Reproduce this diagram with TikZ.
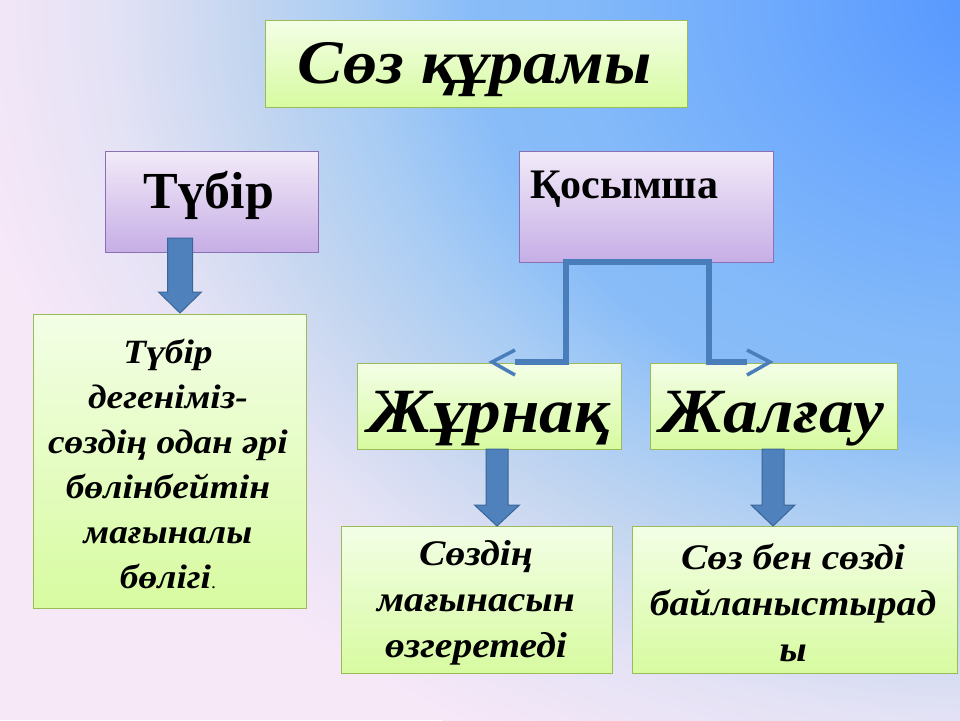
\documentclass[tikz,border=0pt]{standalone}
\usepackage{fontspec}
\setmainfont{Liberation Serif}
\newfontfamily\widefont[FakeStretch=1.1]{Liberation Serif}
\definecolor{bgA}{HTML}{5496FF}
\definecolor{bgB}{HTML}{6CA8FD}
\definecolor{bgC}{HTML}{84BAF9}
\definecolor{bgD}{HTML}{88BCF8}
\definecolor{bgE}{HTML}{A8CCF4}
\definecolor{bgF}{HTML}{C4D6F0}
\definecolor{bgG}{HTML}{E4E2F5}
\definecolor{bgH}{HTML}{F7E8F8}
\definecolor{gTop}{HTML}{F3FEE6}
\definecolor{gBot}{HTML}{D7FBA0}
\definecolor{gLine}{HTML}{9BBB59}
\definecolor{pTop}{HTML}{F2EAF8}
\definecolor{pBot}{HTML}{C6AEE6}
\definecolor{pLine}{HTML}{8C70B4}
\definecolor{aFill}{HTML}{4F81BD}
\definecolor{aLine}{HTML}{3A6697}
\definecolor{cBlue}{HTML}{4A7EBB}
\pgfdeclareradialshading{bgshade}{\pgfpoint{0bp}{0bp}}{color(0bp)=(bgA); color(5bp)=(bgB); color(10.25bp)=(bgC); color(12.5bp)=(bgD); color(15.25bp)=(bgE); color(18bp)=(bgF); color(21.25bp)=(bgG); color(25bp)=(bgH); color(50bp)=(bgH)}
\newcommand\blockdown[6]{%
  \filldraw[blk] (#1-#5,#2) -- (#1+#5,#2) -- (#1+#5,#3) -- (#1+#6,#3) -- (#1,#4) -- (#1-#6,#3) -- (#1-#5,#3) -- cycle;}
\tikzset{
  gbox/.style={draw=gLine, line width=1.2pt, top color=gTop, bottom color=gBot, anchor=north west, inner sep=0pt},
  pbox/.style={draw=pLine, line width=1.2pt, top color=pTop, bottom color=pBot, anchor=north west, inner sep=0pt},
  blk/.style={fill=aFill, draw=aLine, line width=1pt, line join=miter},
  conn/.style={draw=cBlue, line width=6pt, line join=miter},
  barb/.style={draw=cBlue, line width=3.5pt, line join=miter},
  bi/.style={font=\widefont\fontsize{#1}{#1}\selectfont\bfseries\itshape},
  txt/.style={align=center, inner sep=0pt, text=black}
}
\begin{document}
\begin{tikzpicture}[x=1pt,y=-1pt]
\useasboundingbox (0,0) rectangle (960,720);
\begin{scope}
  \clip (0,0) rectangle (960,720);
  \fill[bgH] (0,0) rectangle (960,720);
  \shade[shading=bgshade] (1000,0) ellipse [x radius=1050, y radius=850];
\end{scope}

% boxes
\node[gbox, minimum width=422pt, minimum height=87pt] (title) at (265,20) {};
\node[pbox, minimum width=213pt, minimum height=101pt] (tubir) at (105,151) {};
\node[pbox, minimum width=254pt, minimum height=111pt] (kos) at (519,151) {};
\node[gbox, minimum width=273pt, minimum height=294pt] (lbox) at (33,314) {};
\node[gbox, minimum width=264pt, minimum height=86pt] (zhur) at (357,363) {};
\node[gbox, minimum width=247pt, minimum height=86pt] (zhal) at (650,363) {};
\node[gbox, minimum width=271pt, minimum height=147pt] (b1) at (341,526) {};
\node[gbox, minimum width=325pt, minimum height=147pt] (b2) at (632,526) {};

% texts
\node[txt, bi=62, anchor=base] (titleT) at (475,83) {Сөз құрамы};
\node[txt, font=\fontsize{52}{52}\selectfont\bfseries, anchor=base] (tubirT) at (209,208) {Түбір};
\node[txt, font=\fontsize{42}{42}\selectfont\bfseries, anchor=base west] (kosT) at (530,198) {Қосымша};
\node[txt, bi=63, anchor=base] (zhurT) at (489,432) {Жұрнақ};
\node[txt, bi=63, anchor=base] (zhalT) at (772,432) {Жалғау};
\node[txt, font=\widefont\fontsize{34}{45}\selectfont\bfseries\itshape] (lT) at (168,464)
  {Түбір\\дегеніміз-\\сөздің одан әрі\\бөлінбейтін\\мағыналы\\бөлігі{\fontsize{18}{18}\selectfont\mdseries\upshape .}};
\node[txt, font=\widefont\fontsize{36}{46}\selectfont\bfseries\itshape] (b1T) at (476,603)
  {Сөздің\\мағынасын\\өзгеретеді};
\node[txt, font=\widefont\fontsize{36}{46}\selectfont\bfseries\itshape] (b2T) at (793,603)
  {Сөз бен сөзді\\байланыстырад\\ы};

% block arrows
\blockdown{180}{238}{292}{313}{12.5}{21.5}
\blockdown{497}{449}{505}{526}{11}{22.5}
\blockdown{773}{449}{505}{526}{11}{22}

% connector from Қосымша
\coordinate (kl) at (566,262);
\coordinate (kr) at (709,262);
\coordinate (jl) at (492,362);
\coordinate (jr) at (770,362);
\draw[conn] (515,362) -- (kl |- jl) -- (kl) -- (kr) -- (kr |- jr) -- (747,362);
\draw[barb] (515,350) -- (jl) -- (515,375);
\draw[barb] (747,350) -- (jr) -- (747,375);
\end{tikzpicture}
\end{document}
